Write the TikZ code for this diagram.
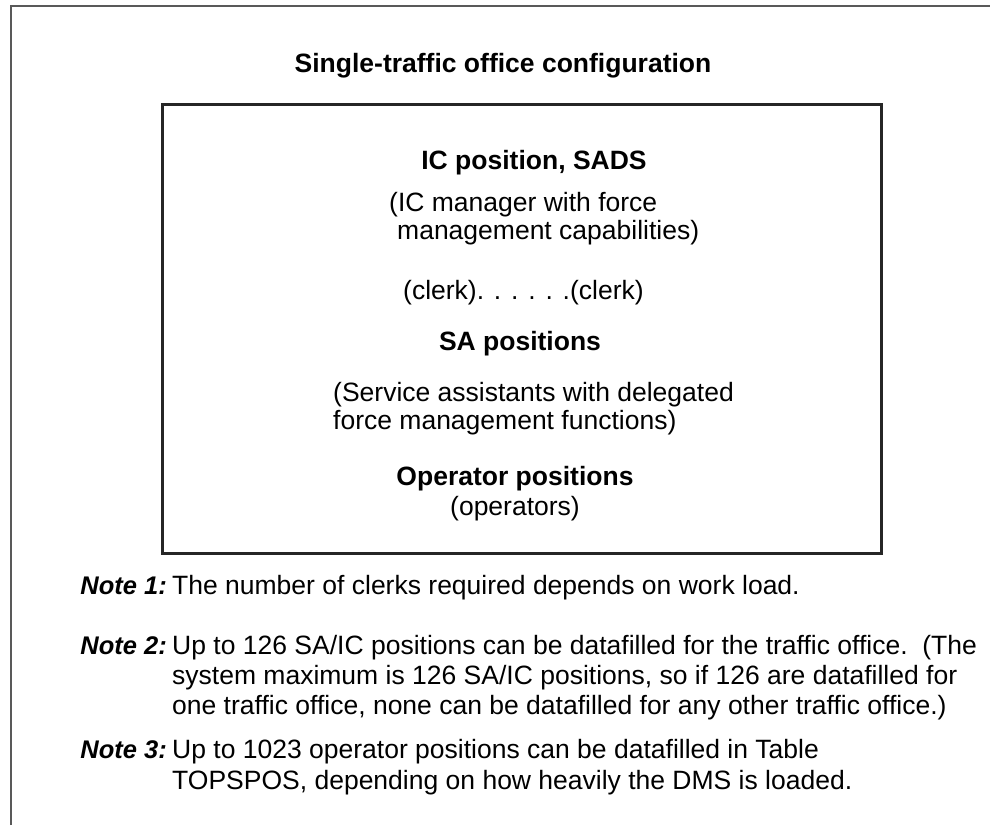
\documentclass[tikz,border=0pt]{standalone}
\usepackage{fontspec}
\setmainfont{Liberation Sans}
\begin{document}
\begin{tikzpicture}[x=1pt,y=-1pt,
  txt/.style={inner sep=0pt, font=\fontsize{26.5}{30}\selectfont},
  head/.style={inner sep=0pt, anchor=base, font=\fontsize{26.5}{30}\selectfont\bfseries},
  notelabel/.style={inner sep=0pt, anchor=base east, font=\fontsize{25.5}{30}\selectfont\bfseries\itshape},
  notetext/.style={inner sep=0pt, anchor=base west, font=\fontsize{26.5}{30}\selectfont},
  frame/.style={draw=black!65, line width=2pt},
  officebox/.style={draw=black!85, line width=3pt}]
\useasboundingbox (0,0) rectangle (990,825);
% open outer frame: top and left edges only
\draw[frame] (11,825) -- (11,6) -- (990,6);
% traffic office box
\draw[officebox] (162,104) rectangle (881,553);

\node[head] (title) at (503,72.5) {Single-traffic office configuration};

\node[head] (ic) at (534,169.5) {IC position, SADS};
\node[txt, anchor=base west] (icd1) at (389,211.5) {(IC manager with force};
\node[txt, anchor=base west] (icd2) at (397,239) {management capabilities)};
\node[txt, anchor=base west] (clerk) at (403,299.5) {(clerk). . . . . .(clerk)};
\node[head] (sa) at (520,350) {SA positions};
\node[txt, anchor=base west] (sad1) at (333,401.5) {(Service assistants with delegated};
\node[txt, anchor=base west] (sad2) at (333,429.5) {force management functions)};
\node[head] (op) at (515,485.5) {Operator positions};
\node[txt, anchor=base] (opd) at (515,515.5) {(operators)};

\node[notelabel] (n1l) at (167,594.5) {Note 1:};
\node[notetext] (n1) at (172,594.5) {The number of clerks required depends on work load.};
\node[notelabel] (n2l) at (167,654.5) {Note 2:};
\node[notetext] (n2a) at (172,654.5) {Up to 126 SA/IC positions can be datafilled for the traffic office.\ \ (The};
\node[notetext] (n2b) at (172,684.5) {system maximum is 126 SA/IC positions, so if 126 are datafilled for};
\node[notetext] (n2c) at (172,714.5) {one traffic office, none can be datafilled for any other traffic office.)};
\node[notelabel] (n3l) at (167,758) {Note 3:};
\node[notetext] (n3a) at (172,758) {Up to 1023 operator positions can be datafilled in Table};
\node[notetext] (n3b) at (172,789) {TOPSPOS, depending on how heavily the DMS is loaded.};
\end{tikzpicture}
\end{document}
